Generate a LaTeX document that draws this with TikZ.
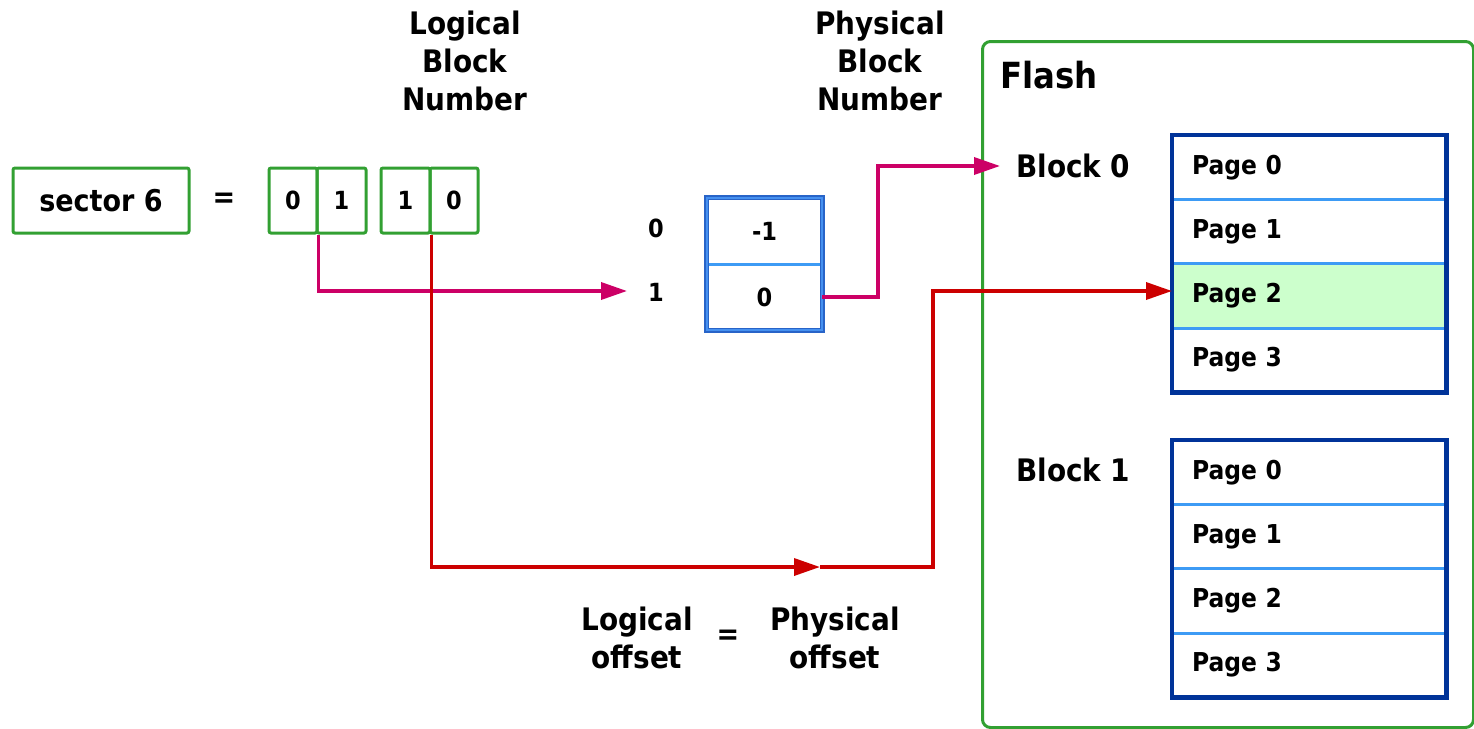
\documentclass[tikz,border=0pt]{standalone}
\usepackage{fontspec}
\setmainfont{DejaVu Sans Condensed}
\usetikzlibrary{arrows.meta}
\definecolor{gboxc}{RGB}{50,160,50}
\definecolor{magc}{RGB}{204,0,102}
\definecolor{redc}{RGB}{204,0,0}
\definecolor{dblue}{RGB}{0,51,153}
\definecolor{lblue}{RGB}{61,155,245}
\definecolor{tblue}{RGB}{40,100,200}
\definecolor{pgreen}{RGB}{204,255,204}
\begin{document}
\begin{tikzpicture}[x=1pt,y=-1pt,
  big/.style={font=\bfseries\fontsize{31}{38}\selectfont, inner sep=0pt, align=center},
  mid/.style={font=\bfseries\fontsize{30}{36}\selectfont, inner sep=0pt},
  small/.style={font=\bfseries\fontsize{25}{30}\selectfont, inner sep=0pt},
  gbox/.style={draw=gboxc, line width=3pt, rounded corners=2pt},
  half/.style={gbox, minimum height=65pt, inner sep=0pt, font=\bfseries\fontsize{25}{30}\selectfont},
  cell/.style={minimum width=115pt, minimum height=66pt, inner sep=0pt, font=\bfseries\fontsize{25}{30}\selectfont},
  page/.style={anchor=north west, minimum width=274pt, minimum height=64.25pt, text width=234pt, inner xsep=20pt, inner ysep=0pt, align=left, font=\bfseries\fontsize{26}{30}\selectfont},
  magarrow/.style={draw=magc, line width=3.5pt, -{Triangle[length=26pt,width=17pt]}},
  redarrow/.style={draw=redc, line width=3.5pt, -{Triangle[length=26pt,width=17pt]}},
]
\useasboundingbox (0,0) rectangle (1474,728);

% header labels
\node[big] (lbn) at (465,61) {Logical\\Block\\Number};
\node[big] (pbn) at (880,61) {Physical\\Block\\Number};

% sector and bit boxes
\node[gbox, mid, minimum width=176pt, minimum height=65pt] (sec) at (101,200.5) {sector 6};
\node[mid] (eq1) at (224,200) {=};
\node[half, minimum width=48pt] (a0) at (293,200.5) {0};
\node[half, minimum width=49pt] (a1) at (341.5,200.5) {1};
\node[half, minimum width=49pt] (b1) at (405.5,200.5) {1};
\node[half, minimum width=48pt] (b0) at (454,200.5) {0};

% table
\node[small] (r0) at (656,228) {0};
\node[small] (r1) at (656,292) {1};
\node[cell] (t0) at (764.5,231) {-1};
\node[cell] (t1) at (764.5,297) {0};
\draw[lblue, line width=3pt] (t0.south west) -- (t0.south east);
\draw[draw=tblue, line width=1.3pt, double={rgb,255:red,70;green,145;blue,240}, double distance=2.5pt] (t0.north west) rectangle (t1.south east);

% Flash container
\node[draw=gboxc, line width=3pt, rounded corners=8pt, minimum width=491pt, minimum height=686pt, anchor=north west, inner sep=0pt] (flash) at (981,40) {};
\node[font=\bfseries\fontsize{36}{40}\selectfont, inner sep=0pt, anchor=west] (flashlbl) at (1000,75) {Flash};
\node[big, anchor=west] (blk0) at (1016,166) {Block 0};
\node[big, anchor=west] (blk1) at (1016,470) {Block 1};

% Block 0 pages
\fill[pgreen] (1172,264) rectangle (1446,328);
\node[page] (p00) at (1172,135) {Page 0};
\node[page] (p01) at (1172,199.25) {Page 1};
\node[page] (p02) at (1172,263.5) {Page 2};
\node[page] (p03) at (1172,327.75) {Page 3};
\foreach \n in {p00,p01,p02} \draw[lblue, line width=3pt] (\n.south west) -- (\n.south east);
\draw[dblue, line width=4.5pt] (p00.north west) rectangle (p03.south east);

% Block 1 pages
\node[page] (p10) at (1172,440) {Page 0};
\node[page] (p11) at (1172,504.25) {Page 1};
\node[page] (p12) at (1172,568.5) {Page 2};
\node[page] (p13) at (1172,632.75) {Page 3};
\foreach \n in {p10,p11,p12} \draw[lblue, line width=3pt] (\n.south west) -- (\n.south east);
\draw[dblue, line width=4.5pt] (p10.north west) rectangle (p13.south east);

% offset labels
\node[big] (lo) at (637,638) {Logical\\offset};
\node[mid] (eq2) at (728,637) {=};
\node[big] (po) at (835,638) {Physical\\offset};

% connectors
\coordinate (m1end) at (627,291);
\coordinate (b0in) at (1000,166);
\coordinate (offend) at (820,567);
\coordinate (p2in) at (1172,291);
\draw[magarrow] (a0.south east) |- (m1end);
\draw[magarrow] (t1.east) -- ++(56,0) |- (b0in);
\draw[redarrow] (b1.south east) |- (offend);
\draw[redarrow] (offend) -- ++(113,0) |- (p2in);
\end{tikzpicture}
\end{document}
